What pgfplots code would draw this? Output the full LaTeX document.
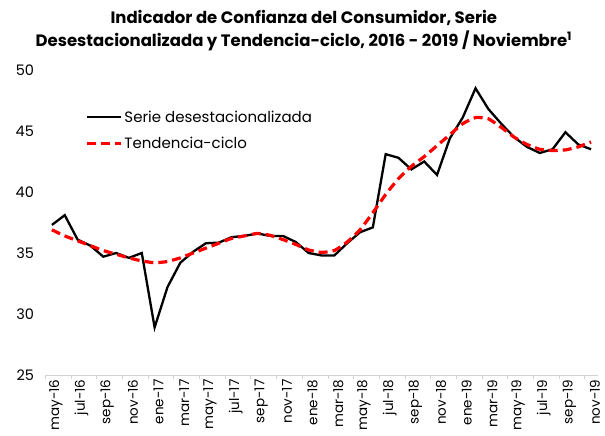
\documentclass[border=0pt]{standalone}
\usepackage{fontspec}
\setmainfont{Poppins}
\usepackage{pgfplots}
\pgfplotsset{compat=1.18}
\begin{document}
\begin{tikzpicture}
\useasboundingbox (0,0) rectangle (605pt,436pt);
\begin{axis}[
  at={(45.5pt,61pt)}, anchor=south west,
  scale only axis, width=552pt, height=305pt,
  xmin=-0.5, xmax=42.5, ymin=25, ymax=50,
  ytick={25,30,...,50},
  xtick={0,2,...,42},
  xticklabels={may-16,jul-16,sep-16,nov-16,ene-17,mar-17,may-17,jul-17,sep-17,nov-17,ene-18,mar-18,may-18,jul-18,sep-18,nov-18,ene-19,mar-19,may-19,jul-19,sep-19,nov-19},
  minor xtick={-0.5,1.5,...,41.5},
  major tick length=0pt, minor tick length=4pt,
  tick align=outside,
  minor tick style={draw=gray!35, line width=0.8pt},
  axis x line*=bottom, axis y line*=left,
  x axis line style={draw=gray!35, line width=0.8pt, -},
  y axis line style={draw=none},
  x tick label style={rotate=90, anchor=east, font=\fontsize{13.5}{15}\selectfont, yshift=-4pt, xshift=-1pt},
  y tick label style={font=\fontsize{14.5}{16}\selectfont, xshift=-8pt},
  /pgf/number format/assume math mode=true,
  title={Indicador de Confianza del Consumidor, Serie\\Desestacionalizada y Tendencia-ciclo, 2016 - 2019 / Noviembre\textsuperscript{1}},
  title style={font=\bfseries\fontsize{16.5}{23}\selectfont, align=center, at={(axis description cs:0.468,1.03)}, anchor=south},
  legend style={draw=none, fill=none, at={(0.066,0.88)}, anchor=north west, font=\fontsize{15}{17}\selectfont, row sep=9pt, legend cell align=left},
  legend image code/.code={\draw[#1] (0cm,0cm) -- (1.2cm,0cm);},
]
\addplot[black, line width=2.3pt, line join=miter] coordinates {
(0,37.3)(1,38.1)(2,36.1)(3,35.6)(4,34.7)(5,35.0)(6,34.6)(7,35.0)(8,28.9)(9,32.2)
(10,34.2)(11,35.1)(12,35.8)(13,35.85)(14,36.3)(15,36.4)(16,36.6)(17,36.4)(18,36.4)(19,35.9)
(20,35.0)(21,34.8)(22,34.8)(23,35.8)(24,36.7)(25,37.1)(26,43.1)(27,42.8)(28,41.85)(29,42.5)
(30,41.4)(31,44.4)(32,46.1)(33,48.5)(34,46.8)(35,45.6)(36,44.5)(37,43.7)(38,43.2)(39,43.5)
(40,44.9)(41,43.9)(42,43.5)
};
\addlegendentry{Serie desestacionalizada}
\addplot[red, line width=3.2pt, dash pattern=on 9pt off 5pt, smooth, tension=0.3] coordinates {
(0,36.9)(1,36.4)(2,36.0)(3,35.6)(4,35.2)(5,34.9)(6,34.6)(7,34.35)(8,34.2)(9,34.3)
(10,34.6)(11,35.0)(12,35.4)(13,35.8)(14,36.2)(15,36.4)(16,36.6)(17,36.45)(18,36.1)(19,35.7)
(20,35.25)(21,35.05)(22,35.2)(23,35.9)(24,36.9)(25,38.3)(26,39.8)(27,41.1)(28,42.1)(29,42.9)
(30,43.8)(31,44.7)(32,45.6)(33,46.1)(34,46.0)(35,45.3)(36,44.5)(37,43.9)(38,43.5)(39,43.4)
(40,43.45)(41,43.7)(42,44.1)
};
\addlegendentry{Tendencia-ciclo}
\end{axis}
\end{tikzpicture}
\end{document}
